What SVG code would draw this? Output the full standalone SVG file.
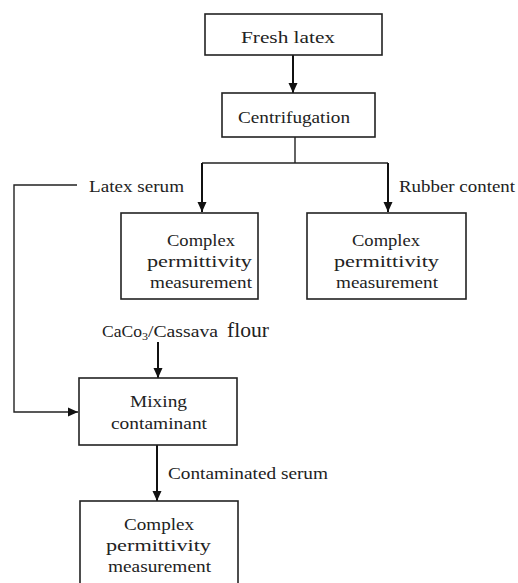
<svg xmlns="http://www.w3.org/2000/svg" width="518" height="583" viewBox="0 0 518 583" font-family="'Liberation Serif', 'Times New Roman', Times, 'DejaVu Serif', 'Noto Serif', serif">
<defs>
<style>
.box{fill:#fff;stroke:#222;stroke-width:1.6}
.t{font-family:'Liberation Serif', 'Times New Roman', Times, 'DejaVu Serif', 'Noto Serif', serif;font-size:17.5px;fill:#222}
.c{stroke:#111;stroke-width:2;fill:none}
.thin{stroke:#222;stroke-width:1.4;fill:none}
</style>
<marker id="ah" markerWidth="10" markerHeight="10" refX="10" refY="5" orient="auto" markerUnits="userSpaceOnUse" viewBox="0 0 10 10">
<path d="M0,0.5 L10,5 L0,9.5 Z" fill="#111"/>
</marker>
</defs>
<rect width="518" height="583" fill="#fff"/>
<g id="connectors">
<line class="c" x1="293" y1="55" x2="293" y2="93" marker-end="url(#ah)"/>
<line class="thin" x1="295" y1="137" x2="295" y2="163"/>
<polyline class="thin" points="202,163 388,163"/>
<line class="c" x1="202" y1="163" x2="202" y2="212" marker-end="url(#ah)"/>
<line class="c" x1="388" y1="163" x2="388" y2="212" marker-end="url(#ah)"/>
<polyline class="thin" points="77,185 14,185 14,412 78,412" marker-end="url(#ah)"/>
<line class="c" x1="158" y1="342" x2="158" y2="378" marker-end="url(#ah)"/>
<line class="c" x1="157" y1="445" x2="157" y2="501" marker-end="url(#ah)"/>
<text class="t" x="89" y="192" textLength="95" lengthAdjust="spacingAndGlyphs">Latex serum</text>
<text class="t" x="399" y="192" textLength="116" lengthAdjust="spacingAndGlyphs">Rubber content</text>
<text class="t" x="168" y="479" textLength="160" lengthAdjust="spacingAndGlyphs">Contaminated serum</text>
<text class="t" x="102" y="337" textLength="40" lengthAdjust="spacingAndGlyphs">CaCo</text>
<text class="t" x="142" y="340" style="font-size:11px" textLength="6" lengthAdjust="spacingAndGlyphs">3</text>
<text class="t" x="148" y="337" textLength="70" lengthAdjust="spacingAndGlyphs">/Cassava</text>
<text class="t" x="227" y="337" style="font-size:20px" textLength="42" lengthAdjust="spacingAndGlyphs">flour</text>
</g>
<g id="fresh">
<rect class="box" x="205" y="14" width="177" height="41"/>
<text class="t" x="241" y="43" textLength="94" lengthAdjust="spacingAndGlyphs">Fresh latex</text>
</g>
<g id="centrifugation">
<rect class="box" x="222" y="93" width="153" height="44"/>
<text class="t" x="238" y="123" textLength="112" lengthAdjust="spacingAndGlyphs">Centrifugation</text>
</g>
<g id="measure1">
<rect class="box" x="121" y="213" width="137" height="86"/>
<text class="t" x="167" y="246" textLength="68" lengthAdjust="spacingAndGlyphs">Complex</text>
<text class="t" x="147" y="267" textLength="105" lengthAdjust="spacingAndGlyphs">permittivity</text>
<text class="t" x="150" y="288" textLength="102" lengthAdjust="spacingAndGlyphs">measurement</text>
</g>
<g id="measure2">
<rect class="box" x="307" y="213" width="159" height="86"/>
<text class="t" x="352" y="246" textLength="68" lengthAdjust="spacingAndGlyphs">Complex</text>
<text class="t" x="334" y="267" textLength="105" lengthAdjust="spacingAndGlyphs">permittivity</text>
<text class="t" x="336" y="288" textLength="102" lengthAdjust="spacingAndGlyphs">measurement</text>
</g>
<g id="mixing">
<rect class="box" x="79" y="378" width="158" height="67"/>
<text class="t" x="130" y="407" textLength="57" lengthAdjust="spacingAndGlyphs">Mixing</text>
<text class="t" x="111" y="429" textLength="96" lengthAdjust="spacingAndGlyphs">contaminant</text>
</g>
<g id="measure3">
<rect class="box" x="80" y="501" width="158" height="100"/>
<text class="t" x="124" y="530" textLength="70" lengthAdjust="spacingAndGlyphs">Complex</text>
<text class="t" x="106" y="551" textLength="105" lengthAdjust="spacingAndGlyphs">permittivity</text>
<text class="t" x="108" y="572" textLength="103" lengthAdjust="spacingAndGlyphs">measurement</text>
</g>
</svg>
